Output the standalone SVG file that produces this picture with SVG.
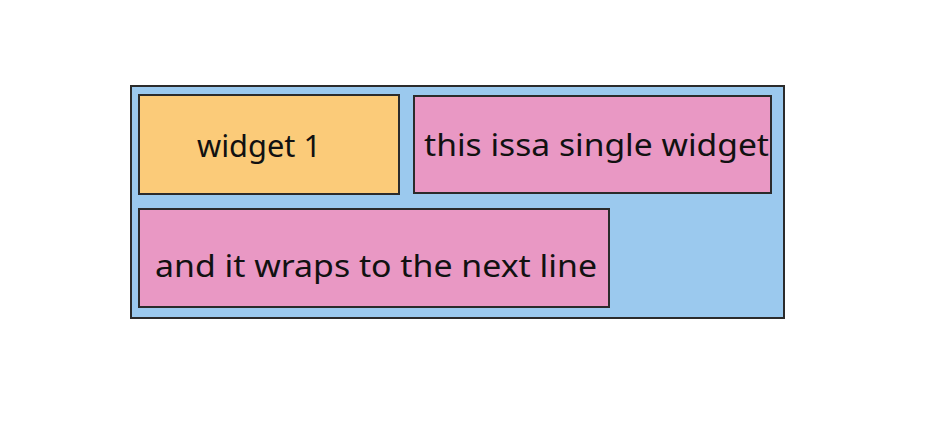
<svg xmlns="http://www.w3.org/2000/svg" width="933" height="422" viewBox="0 0 933 422">
<style>
.box{stroke:#2b2b2b;stroke-width:2}
.lbl{font-family:"Comic Sans MS","Noto Sans","Liberation Sans",sans-serif;font-size:30px;fill:#111}
</style>
<rect width="933" height="422" fill="#ffffff"/>
<g id="container">
<rect class="box" x="131" y="86" width="653" height="232" fill="#9bc9ee"/>
</g>
<g id="widget1">
<rect class="box" x="139" y="95" width="260" height="99" fill="#fbcb79"/>
<text class="lbl" x="197" y="157" textLength="124" lengthAdjust="spacingAndGlyphs">widget 1</text>
</g>
<g id="widget2">
<rect class="box" x="414" y="96" width="357" height="97" fill="#e998c4"/>
<text class="lbl" x="424" y="156" textLength="345" lengthAdjust="spacingAndGlyphs">this issa single widget</text>
</g>
<g id="widget3">
<rect class="box" x="139" y="209" width="470" height="98" fill="#e998c4"/>
<text class="lbl" x="155" y="277" textLength="442" lengthAdjust="spacingAndGlyphs">and it wraps to the next line</text>
</g>
<g id="connectors"/>
</svg>
